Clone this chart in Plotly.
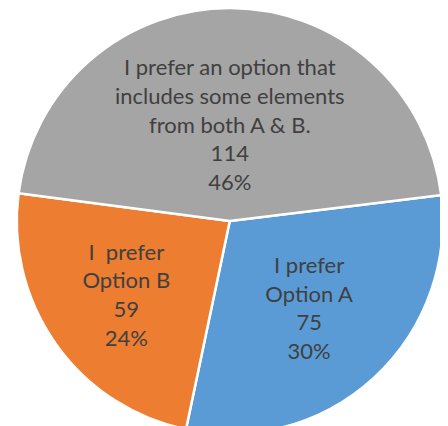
import plotly.graph_objects as go

labels = ["I prefer<br>Option A", "I\u00a0 prefer<br>Option B",
          "I prefer an option that<br>includes some elements<br>from both A &amp; B."]
values = [75, 59, 114]
colors = ["#5B9BD5", "#ED7D31", "#A5A5A5"]

fig = go.Figure(go.Pie(
    labels=labels, values=values, sort=False, direction="clockwise", rotation=83,
    marker=dict(colors=colors, line=dict(color="white", width=2.5)),
    texttemplate="%{label}<br>%{value}<br>%{percent:.0%}",
    textposition="inside", insidetextorientation="horizontal",
    textfont=dict(family="Lato", size=22, color="#404040"),
    hoverinfo="none", showlegend=False,
    domain=dict(x=[0.0, 0.99], y=[0.0, 1.0]),
))
fig.update_layout(width=448, height=426, margin=dict(l=0, r=0, t=0, b=0),
                  paper_bgcolor="white", plot_bgcolor="white",
                  uniformtext=dict(minsize=22, mode="show"))
fig.write_html("out.html")
